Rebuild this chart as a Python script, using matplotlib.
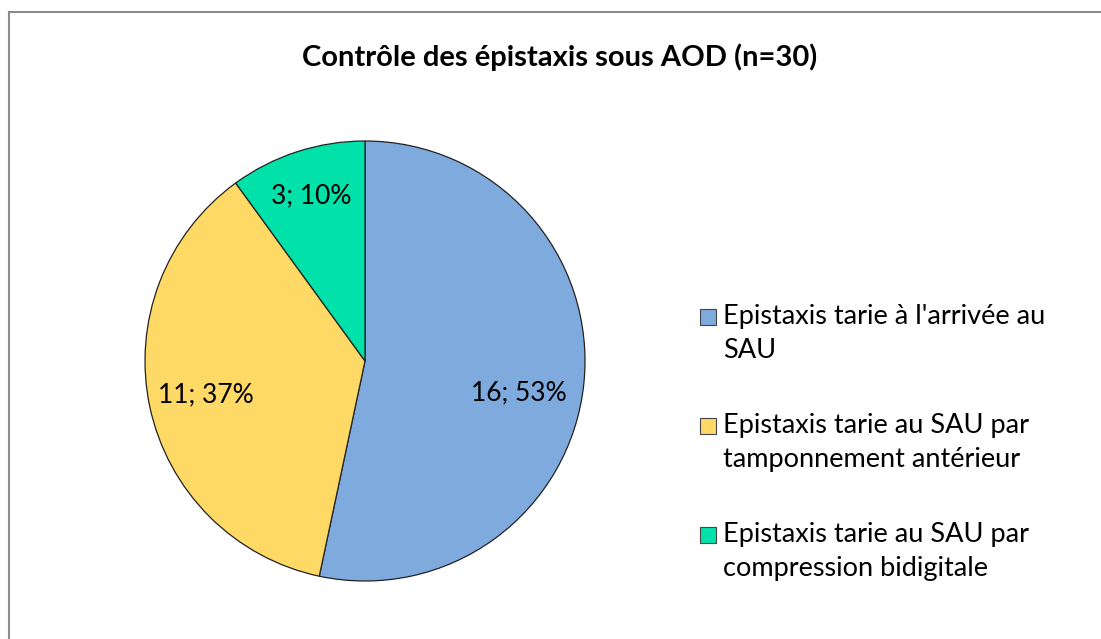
import matplotlib.pyplot as plt
from matplotlib.lines import Line2D
from matplotlib.patches import Rectangle

labels = [
    "Epistaxis tarie à l'arrivée au\nSAU",
    "Epistaxis tarie au SAU par\ntamponnement antérieur",
    "Epistaxis tarie au SAU par\ncompression bidigitale",
]
counts = [16, 11, 3]
colors = ["#7FAADE", "#FFD966", "#00E2AA"]
title = "Contrôle des épistaxis sous AOD (n=30)"

plt.rcParams["font.family"] = ["Lato", "DejaVu Sans"]

W, H = 1101, 639
fig = plt.figure(figsize=(W / 100, H / 100), dpi=100)

# cadre gris (haut et gauche seulement visibles)
fig.add_artist(Line2D([9 / W, 9 / W], [0, 1 - 12 / H], color="#8c8c8c", lw=1.5))
fig.add_artist(Line2D([9 / W, 1], [1 - 12 / H, 1 - 12 / H], color="#8c8c8c", lw=1.5))

ax = fig.add_axes([145 / W, 58 / H, 440 / W, 440 / H])
total = sum(counts)
wedges, texts, autotexts = ax.pie(
    counts,
    colors=colors,
    startangle=90,
    counterclock=False,
    radius=1,
    autopct=lambda p: f"{round(p * total / 100)}; {p:.0f}%",
    pctdistance=0.74,
    wedgeprops=dict(edgecolor="#222222", linewidth=0.9),
    textprops=dict(fontsize=19, color="black"),
)
# positions des étiquettes comme dans l'original (placement "ajusté" d'Excel)
autotexts[0].set_position((0.70, -0.145))
x3, y3 = autotexts[2].get_position()
autotexts[2].set_position((x3 * 1.07, y3 * 1.07))
ax.set_xlim(-1, 1)
ax.set_ylim(-1, 1)
ax.set_aspect("equal")

fig.text(560 / W, 1 - 57 / H, title, ha="center", va="center",
         fontsize=21, fontweight="bold")

# légende à la main : carré aligné sur la première ligne
for i, (lab, c) in enumerate(zip(labels, colors)):
    yc = 317 + i * 109
    fig.add_artist(Rectangle((700 / W, 1 - (yc + 8) / H), 16 / W, 16 / H,
                             facecolor=c, edgecolor="#444444", lw=0.8,
                             transform=fig.transFigure))
    fig.text(723 / W, 1 - (yc - 13) / H, lab, ha="left", va="top",
             fontsize=19.5, linespacing=1.45)

fig.savefig("out.png", dpi=100)
